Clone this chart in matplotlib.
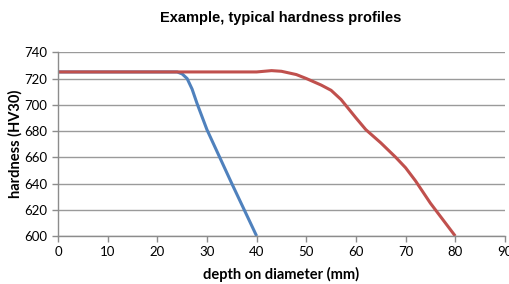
import matplotlib
matplotlib.use("Agg")
import matplotlib.pyplot as plt

blue_x = [0, 10, 20, 24, 25, 26, 27, 28, 30, 35, 40]
blue_y = [725, 725, 725, 725, 723.5, 720, 712, 701, 681, 640, 600]
red_x = [0, 10, 20, 30, 40, 43, 45, 48, 50, 53, 55, 57, 60, 62, 65, 68, 70, 72, 75, 80]
red_y = [725, 725, 725, 725, 725, 726, 725.5, 723, 720, 715, 711, 704, 690, 681, 671, 660, 652, 642, 625, 600]
x_ticks = [0, 10, 20, 30, 40, 50, 60, 70, 80, 90]
y_ticks = [600, 620, 640, 660, 680, 700, 720, 740]

fig = plt.figure(figsize=(5.1, 2.84), dpi=100)
ax = fig.add_axes([0.1137, 0.169, 0.8763, 0.647])
ax.plot(blue_x, blue_y, color="#4F81BD", lw=2.2, solid_capstyle="butt", clip_on=False)
ax.plot(red_x, red_y, color="#C0504D", lw=2.2, solid_capstyle="butt", clip_on=False)
ax.set_xlim(0, 90)
ax.set_ylim(600, 740)
ax.set_xticks(x_ticks)
ax.set_yticks(y_ticks)
ax.yaxis.grid(True, color="#9A9A9A", lw=1.0)
ax.set_axisbelow(True)
for s in ["top", "right"]:
    ax.spines[s].set_visible(False)
for s in ["left", "bottom"]:
    ax.spines[s].set_color("#8C8C8C")
    ax.spines[s].set_linewidth(1.0)
ax.tick_params(axis="both", colors="#8C8C8C", labelcolor="black", labelsize=9.5, length=4, width=1.0)
for lbl in ax.get_xticklabels() + ax.get_yticklabels():
    lbl.set_family("Lato")
ax.set_xlabel("depth on diameter (mm)", fontsize=10.5, fontweight="bold", family="Lato", labelpad=6)
ax.set_ylabel("hardness (HV30)", fontsize=10.5, fontweight="bold", family="Lato", labelpad=1)
fig.suptitle("Example, typical hardness profiles", x=0.55, y=0.96, fontsize=10.5, fontweight="bold", family="Liberation Sans")
fig.savefig("out.png", dpi=100)
